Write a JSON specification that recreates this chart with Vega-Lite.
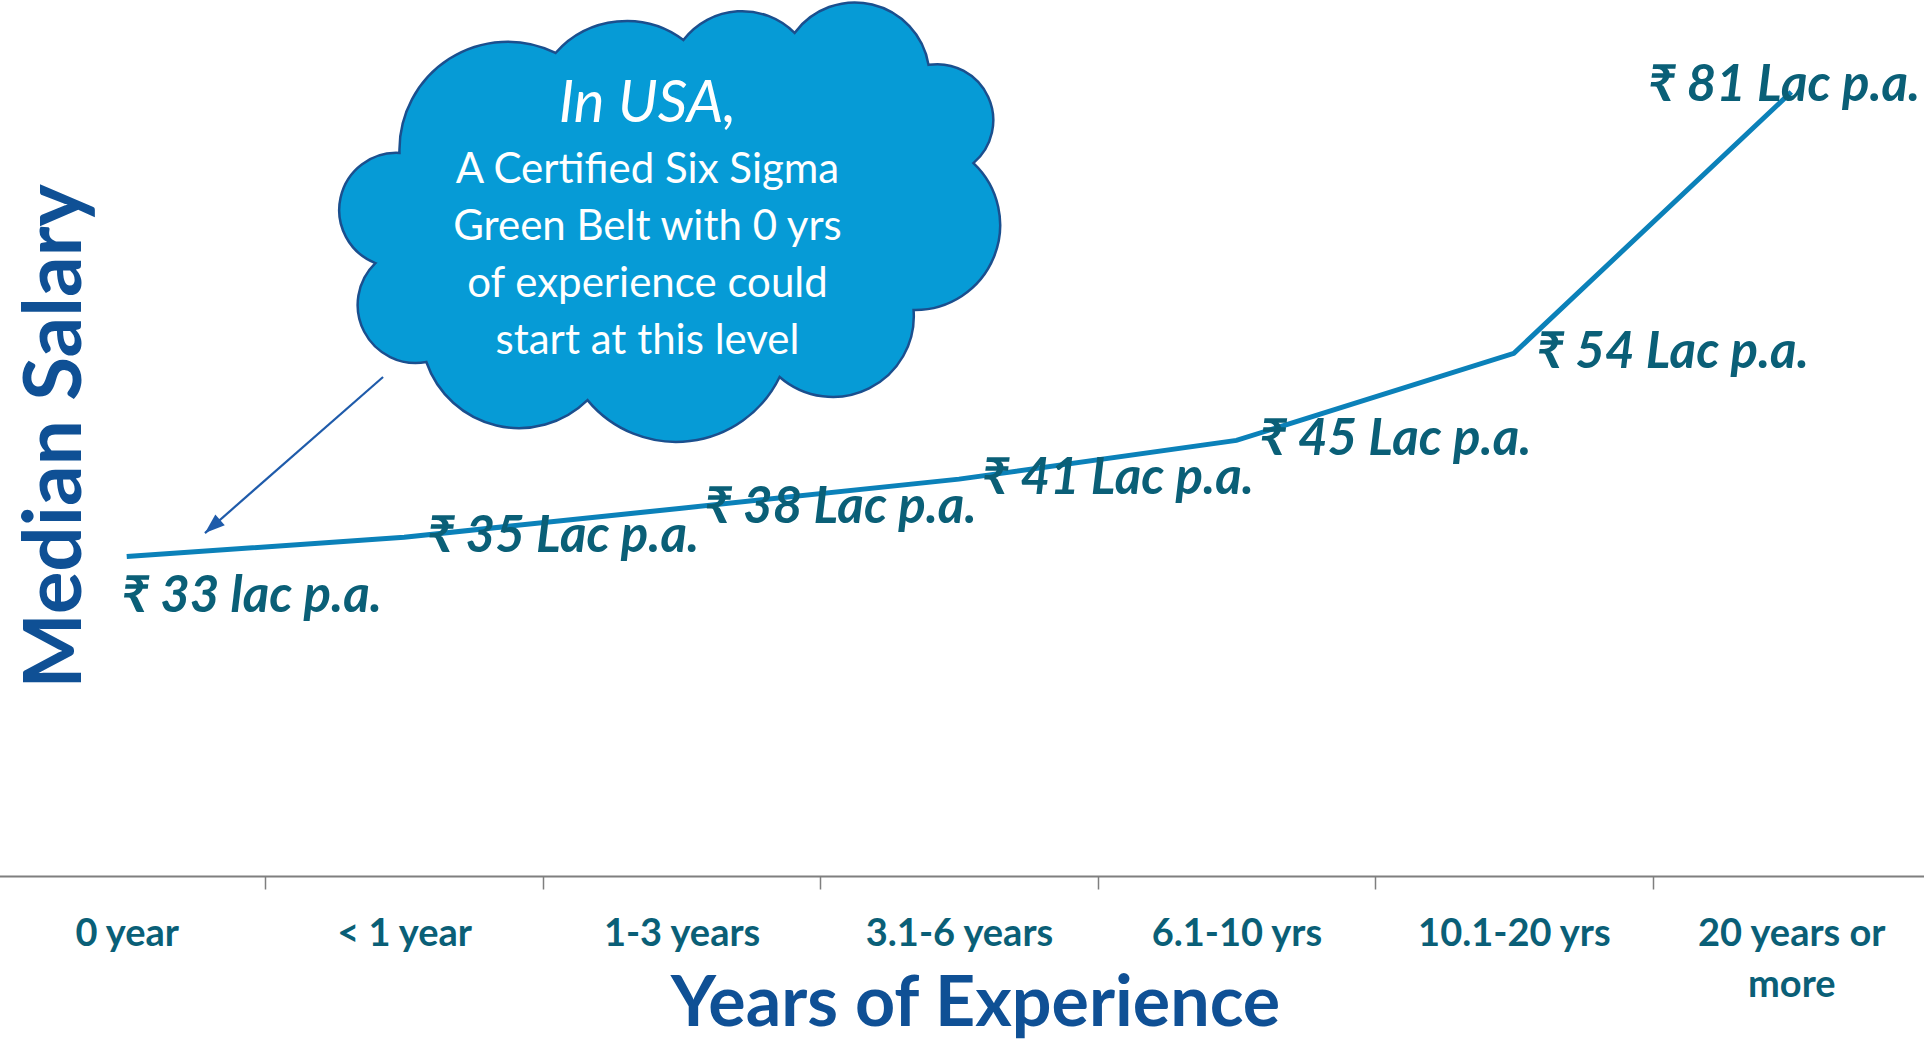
{
  "$schema": "https://vega.github.io/schema/vega-lite/v6.json",
  "width": 1924,
  "height": 876,
  "autosize": {"type": "none"},
  "padding": {"left": 0, "top": 0, "right": 0, "bottom": 165},
  "background": "white",
  "config": {
    "view": {"stroke": null},
    "font": "Lato",
    "axisY": {
      "domain": false, "ticks": false, "labels": false, "grid": false,
      "titleFont": "Lato", "titleFontSize": 80, "titleFontWeight": "bold", "titleColor": "#0F5095",
      "titleAngle": -90, "titleAlign": "center", "titleBaseline": "middle", "titleX": 56, "titleY": 436
    }
  },
  "datasets": {
    "salary": [
      {"exp": "0 year", "salary": 33, "label": "₹ 33 lac p.a."},
      {"exp": "< 1 year", "salary": 35, "label": "₹ 35 Lac p.a."},
      {"exp": "1-3 years", "salary": 38, "label": "₹ 38 Lac p.a."},
      {"exp": "3.1-6 years", "salary": 41, "label": "₹ 41 Lac p.a."},
      {"exp": "6.1-10 yrs", "salary": 45, "label": "₹ 45 Lac p.a."},
      {"exp": "10.1-20 yrs", "salary": 54, "label": "₹ 54 Lac p.a."},
      {"exp": "20 years or more", "salary": 81, "label": "₹ 81 Lac p.a."}
    ],
    "note": [
      {"i": 1.96, "v": 67.15, "heading": "In USA,", "body": "A Certified Six Sigma\nGreen Belt with 0 yrs\nof experience  could\nstart at this level"}
    ],
    "pointer": [
      {"i": 0.924, "v": 51.55, "i2": 0.282, "v2": 35.43}
    ]
  },
  "layer": [
    {
      "data": {"name": "salary"},
      "encoding": {
        "x": {
          "field": "exp", "type": "nominal",
          "scale": {"type": "band", "domain": ["0 year", "< 1 year", "1-3 years", "3.1-6 years", "6.1-10 yrs", "10.1-20 yrs", "20 years or more"], "paddingInner": 0, "paddingOuter": 0, "range": [-12, 1930]},
          "axis": {
            "title": "Years of Experience",
            "tickBand": "extent",
            "grid": false,
            "domainColor": "#7F7F7F", "domainWidth": 2,
            "tickColor": "#7F7F7F", "tickWidth": 1.5, "tickSize": 13,
            "labelFont": "Lato", "labelFontSize": 38, "labelFontWeight": "bold", "labelColor": "#0A5F77",
            "labelPadding": 26, "labelLineHeight": 51, "labelAngle": 0, "labelLimit": 600, "labelOverlap": false,
            "labelExpr": "datum.value === '20 years or more' ? ['20 years or', 'more'] : datum.label",
            "titleFont": "Lato", "titleFontSize": 70, "titleFontWeight": "bold", "titleColor": "#0F5095",
            "titleX": 975, "titleY": 149, "titleBaseline": "alphabetic", "titleAlign": "center"
          }
        },
        "y": {"field": "salary", "type": "quantitative", "scale": {"domain": [0, 90.5], "nice": false, "zero": true}, "title": "Median Salary"}
      },
      "layer": [
        {"mark": {"type": "line", "color": "#0B81B9", "strokeWidth": 5}},
        {
          "transform": [{"filter": "datum.exp != '0 year' && datum.exp != '20 years or more'"}],
          "mark": {"type": "text", "align": "left", "baseline": "middle", "dx": 23, "dy": 0, "font": "Lato", "fontSize": 51, "fontWeight": "bold", "fontStyle": "italic", "color": "#0A5F77"},
          "encoding": {"text": {"field": "label"}}
        },
        {
          "transform": [{"filter": "datum.exp == '0 year'"}],
          "mark": {"type": "text", "align": "left", "baseline": "middle", "dx": -5, "dy": 40, "font": "Lato", "fontSize": 51, "fontWeight": "bold", "fontStyle": "italic", "color": "#0A5F77"},
          "encoding": {"text": {"field": "label"}}
        },
        {
          "transform": [{"filter": "datum.exp == '20 years or more'"}],
          "mark": {"type": "text", "align": "left", "baseline": "middle", "dx": -143, "dy": -6, "font": "Lato", "fontSize": 51, "fontWeight": "bold", "fontStyle": "italic", "color": "#0A5F77"},
          "encoding": {"text": {"field": "label"}}
        }
      ]
    },
    {
      "layer": [
        {
          "data": {"name": "note"},
          "mark": {
            "type": "point",
            "shape": "M-0.797,-0.215 A0.318,0.318 0 0 1 -0.338,-0.509 A0.279,0.279 0 0 1 0.038,-0.547 A0.218,0.218 0 0 1 0.365,-0.568 A0.22,0.22 0 0 1 0.759,-0.474 A0.165,0.165 0 0 1 0.891,-0.185 A0.25,0.25 0 0 1 0.715,0.247 A0.238,0.238 0 0 1 0.321,0.444 A0.338,0.338 0 0 1 -0.244,0.512 A0.288,0.288 0 0 1 -0.718,0.4 A0.171,0.171 0 0 1 -0.868,0.109 A0.168,0.168 0 0 1 -0.797,-0.215 Z",
            "size": 462400, "filled": true, "fill": "#069BD6", "stroke": "#1B4F8E", "strokeWidth": 2.5, "opacity": 1, "fillOpacity": 1
          },
          "encoding": {
            "x": {"field": "i", "type": "quantitative", "scale": {"domain": [-0.5, 6.5], "range": [-12, 1930], "nice": false, "zero": false}, "axis": null},
            "y": {"field": "v", "type": "quantitative", "scale": {"domain": [0, 90.5], "nice": false, "zero": true}, "title": "Median Salary"}
          }
        },
        {
          "data": {"name": "note"},
          "mark": {"type": "text", "align": "center", "baseline": "alphabetic", "dx": -23, "dy": -104, "font": "Lato", "fontSize": 58, "fontStyle": "italic", "color": "white"},
          "encoding": {
            "x": {"field": "i", "type": "quantitative", "scale": {"domain": [-0.5, 6.5], "range": [-12, 1930], "nice": false, "zero": false}, "axis": null},
            "y": {"field": "v", "type": "quantitative", "scale": {"domain": [0, 90.5], "nice": false, "zero": true}, "title": "Median Salary"},
            "text": {"field": "heading"}
          }
        },
        {
          "data": {"name": "note"},
          "mark": {"type": "text", "align": "center", "baseline": "alphabetic", "dx": -23, "dy": -43, "font": "Lato", "fontSize": 42, "lineHeight": 57, "lineBreak": "\n", "color": "white"},
          "encoding": {
            "x": {"field": "i", "type": "quantitative", "scale": {"domain": [-0.5, 6.5], "range": [-12, 1930], "nice": false, "zero": false}, "axis": null},
            "y": {"field": "v", "type": "quantitative", "scale": {"domain": [0, 90.5], "nice": false, "zero": true}, "title": "Median Salary"},
            "text": {"field": "body"}
          }
        },
        {
          "data": {"name": "pointer"},
          "mark": {"type": "rule", "color": "#1F5BAA", "strokeWidth": 2.2},
          "encoding": {
            "x": {"field": "i", "type": "quantitative", "scale": {"domain": [-0.5, 6.5], "range": [-12, 1930], "nice": false, "zero": false}, "axis": null},
            "y": {"field": "v", "type": "quantitative", "scale": {"domain": [0, 90.5], "nice": false, "zero": true}, "title": "Median Salary"},
            "x2": {"field": "i2"},
            "y2": {"field": "v2"}
          }
        },
        {
          "data": {"name": "pointer"},
          "mark": {"type": "point", "shape": "M0,0L-0.36,1L0.36,1Z", "size": 1600, "angle": 229, "filled": true, "fill": "#1F5BAA", "strokeWidth": 0, "opacity": 1},
          "encoding": {
            "x": {"field": "i2", "type": "quantitative", "scale": {"domain": [-0.5, 6.5], "range": [-12, 1930], "nice": false, "zero": false}, "axis": null},
            "y": {"field": "v2", "type": "quantitative", "scale": {"domain": [0, 90.5], "nice": false, "zero": true}, "title": "Median Salary"}
          }
        }
      ]
    }
  ],
  "resolve": {"scale": {"x": "independent"}}
}
